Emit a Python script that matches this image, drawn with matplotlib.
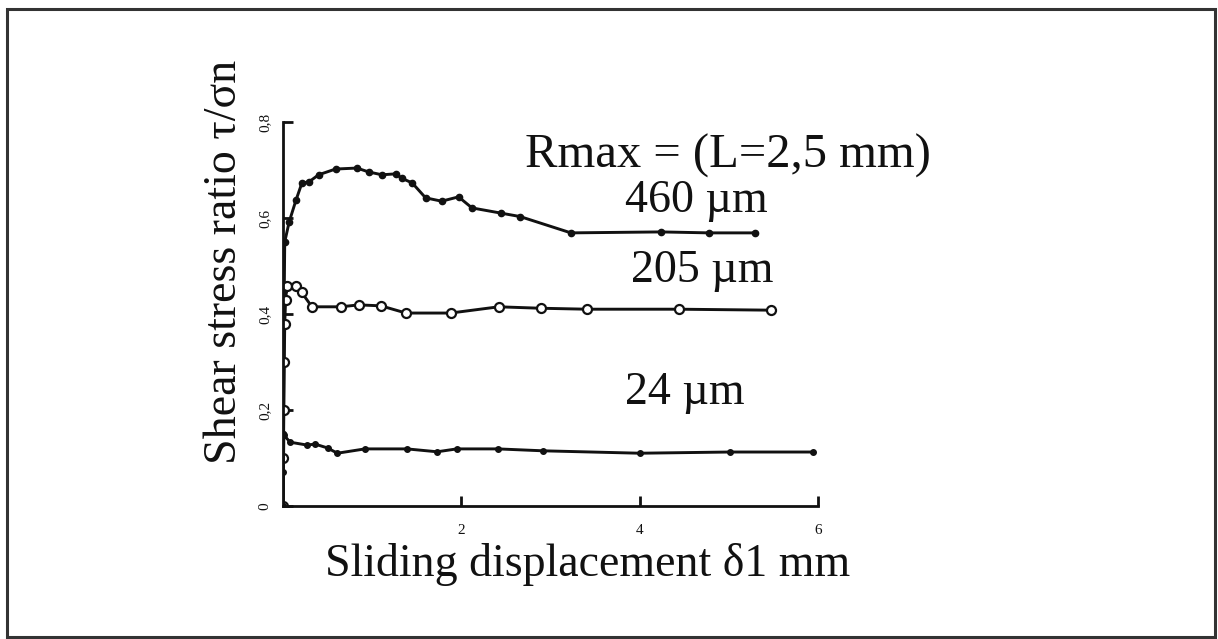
import matplotlib.pyplot as plt
from matplotlib.patches import Rectangle

# sliding displacement (mm) and shear stress ratio for each roughness
x_460 = [0.0, 0.005, 0.01, 0.015, 0.02, 0.07, 0.146, 0.213, 0.29, 0.40, 0.59, 0.83,
         0.96, 1.11, 1.27, 1.33, 1.45, 1.60, 1.78, 1.97, 2.12, 2.45, 2.66, 3.23,
         4.24, 4.78, 5.30]
y_460 = [0.0, 0.15, 0.30, 0.45, 0.55, 0.592, 0.637, 0.673, 0.675, 0.69, 0.702, 0.704,
         0.696, 0.69, 0.692, 0.683, 0.673, 0.642, 0.635, 0.644, 0.621, 0.61, 0.603, 0.569,
         0.571, 0.569, 0.569]

x_205 = [0.0, 0.005, 0.01, 0.015, 0.02, 0.03, 0.045, 0.146, 0.21, 0.325, 0.65, 0.85,
         1.10, 1.38, 1.88, 2.42, 2.89, 3.41, 4.44, 5.47]
y_205 = [0.0, 0.10, 0.20, 0.30, 0.38, 0.43, 0.458, 0.458, 0.445, 0.415, 0.415, 0.419,
         0.417, 0.402, 0.402, 0.415, 0.412, 0.41, 0.41, 0.408]

x_24 = [0.0, 0.005, 0.01, 0.08, 0.27, 0.36, 0.50, 0.61, 0.92, 1.39, 1.73, 1.95,
        2.41, 2.92, 4.0, 5.01, 5.94]
y_24 = [0.0, 0.07, 0.148, 0.133, 0.127, 0.129, 0.121, 0.110, 0.119, 0.119, 0.113, 0.119,
        0.119, 0.115, 0.110, 0.1125, 0.1125]

x_ticks = [2, 4, 6]
y_ticks = [0, 0.2, 0.4, 0.6, 0.8]
y_tick_labels = ["0", "0,2", "0,4", "0,6", "0,8"]

plt.rcParams['font.family'] = ['Liberation Serif', 'DejaVu Serif']

fig = plt.figure(figsize=(12.18, 6.39), dpi=100)
ax = fig.add_axes([0.2323, 0.2081, 0.4392, 0.601])

ink = "#111111"
ax.plot(x_460, y_460, color=ink, lw=2.1, marker="o", ms=4.5, mfc=ink, mec=ink)
ax.plot(x_205, y_205, color=ink, lw=2.1, marker="o", ms=6.5, mfc="white", mec=ink, mew=1.6)
ax.plot(x_24, y_24, color=ink, lw=2.1, marker="o", ms=4, mfc=ink, mec=ink)

ax.set_xlim(0, 6)
ax.set_ylim(0, 0.8)
ax.spines["top"].set_visible(False)
ax.spines["right"].set_visible(False)
for s in ("left", "bottom"):
    ax.spines[s].set_linewidth(2.0)
    ax.spines[s].set_color(ink)

ax.set_xticks(x_ticks)
ax.set_xticklabels([str(t) for t in x_ticks])
ax.set_yticks(y_ticks)
ax.set_yticklabels(y_tick_labels, rotation=90, va="center")
ax.tick_params(direction="in", length=7, width=2, colors=ink, labelsize=11, pad=8)
ax.tick_params(axis="x", pad=13)

# curve labels, placed by baseline
ax.text(2.71, 0.704, "Rmax = (L=2,5 mm)", fontsize=35, va="baseline", ha="left", color=ink)
ax.text(4.64, 0.612, "460 µm", fontsize=33, va="baseline", ha="center", color=ink)
ax.text(4.70, 0.466, "205 µm", fontsize=33, va="baseline", ha="center", color=ink)
ax.text(4.51, 0.212, "24 µm", fontsize=33, va="baseline", ha="center", color=ink)

fig.text(225 / 1218, 1 - 262 / 639, "Shear stress ratio τ/σn", rotation=90,
         fontsize=33, ha="center", va="center", color=ink)
fig.text(588 / 1218, 1 - 565 / 639, "Sliding displacement δ1 mm",
         fontsize=33, ha="center", va="center", color=ink)

# outer frame
fig.patches.append(Rectangle((7 / 1218, 2 / 639), 1208 / 1218, 628 / 639,
                             transform=fig.transFigure, fill=False,
                             edgecolor="#333333", lw=2.2))

fig.savefig("out.png", dpi=100)
